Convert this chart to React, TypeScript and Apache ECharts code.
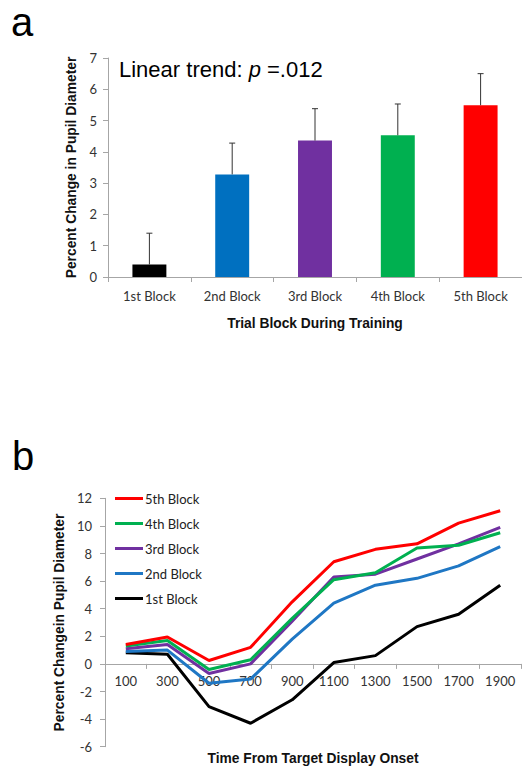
import React, { useEffect, useRef } from "react";
import * as echarts from "echarts";

// ---- Panel a data ----
const blockCategories = ["1st Block", "2nd Block", "3rd Block", "4th Block", "5th Block"];
const meanChange = [0.4, 3.28, 4.36, 4.53, 5.49];
const errorUp = [1.0, 1.0, 1.02, 1.0, 1.01];
const barColors = ["#000000", "#0070C0", "#7030A0", "#00B050", "#FF0000"];

// ---- Panel b data ----
const timeCategories = ["100", "300", "500", "700", "900", "1100", "1300", "1500", "1700", "1900"];
const block1 = [0.8, 0.7, -3.1, -4.3, -2.6, 0.1, 0.6, 2.7, 3.6, 5.7];
const block2 = [0.9, 1.0, -1.4, -1.1, 1.8, 4.4, 5.7, 6.2, 7.1, 8.5];
const block3 = [1.1, 1.4, -0.7, 0.0, 3.1, 6.3, 6.5, 7.6, 8.7, 9.9];
const block4 = [1.3, 1.7, -0.4, 0.3, 3.3, 6.1, 6.6, 8.4, 8.6, 9.5];
const block5 = [1.4, 1.95, 0.25, 1.2, 4.5, 7.4, 8.3, 8.7, 10.2, 11.1];
const lineNames = ["1st Block", "2nd Block", "3rd Block", "4th Block", "5th Block"];
const lineColors = ["#000000", "#1F77C4", "#7030A0", "#00B050", "#FF0000"];
const legendOrder = ["5th Block", "4th Block", "3rd Block", "2nd Block", "1st Block"];

const AXIS_GRAY = "#a6a6a6";
const TICK_FONT = "Lato";
const TITLE_FONT = "Liberation Sans";
const TITLE_SIZE = 13.8;

export default function App() {
  const ref = useRef<HTMLDivElement>(null);
  useEffect(() => {
    if (!ref.current) return;
    const chart = echarts.init(ref.current, null, { renderer: "svg" });
    const lineData = [block1, block2, block3, block4, block5];
    const option: any = {
      animation: false,
      backgroundColor: "#ffffff",
      grid: [
        { left: 108, top: 58, width: 421.5, height: 219, containLabel: false },
        { left: 105, top: 498.3, width: 416, height: 248.4, containLabel: false },
      ],
      legend: {
        data: legendOrder,
        orient: "vertical",
        left: 110,
        top: 487,
        itemWidth: 28,
        itemHeight: 3,
        itemGap: 12,
        icon: "rect",
        textStyle: { fontFamily: TICK_FONT, fontSize: 13, color: "#222", padding: [0, 0, 0, -3] },
      },
      xAxis: [
        {
          type: "category",
          gridIndex: 0,
          data: blockCategories,
          axisLine: { lineStyle: { color: AXIS_GRAY, width: 1 } },
          axisTick: { show: true, length: 5, lineStyle: { color: AXIS_GRAY } },
          axisLabel: { fontFamily: TICK_FONT, fontSize: 13, color: "#333", margin: 12 },
          name: "Trial Block During Training",
          nameLocation: "middle",
          nameGap: 39,
          nameTextStyle: { fontFamily: TITLE_FONT, fontWeight: "bold", fontSize: TITLE_SIZE, color: "#111" },
        },
        {
          type: "category",
          gridIndex: 1,
          data: timeCategories,
          position: "bottom",
          offset: -82.8,
          axisLine: { onZero: false, lineStyle: { color: AXIS_GRAY, width: 1 } },
          axisTick: { show: true, length: 5, lineStyle: { color: AXIS_GRAY } },
          axisLabel: { fontFamily: TICK_FONT, fontSize: 13, color: "#333", margin: 11 },
        },
      ],
      yAxis: [
        {
          type: "value",
          gridIndex: 0,
          min: 0,
          max: 7,
          interval: 1,
          splitLine: { show: false },
          axisLine: { show: true, lineStyle: { color: AXIS_GRAY, width: 1 } },
          axisTick: { show: true, length: 5, lineStyle: { color: AXIS_GRAY } },
          axisLabel: { fontFamily: TICK_FONT, fontSize: 13, color: "#333", margin: 11 },
          name: "Percent Change in Pupil Diameter",
          nameLocation: "middle",
          nameGap: 28,
          nameTextStyle: { fontFamily: TITLE_FONT, fontWeight: "bold", fontSize: TITLE_SIZE, color: "#111" },
        },
        {
          type: "value",
          gridIndex: 1,
          min: -6,
          max: 12,
          interval: 2,
          splitLine: { show: false },
          axisLine: { show: true, lineStyle: { color: AXIS_GRAY, width: 1 } },
          axisTick: { show: true, length: 5, lineStyle: { color: AXIS_GRAY } },
          axisLabel: { fontFamily: TICK_FONT, fontSize: 13, color: "#333", margin: 13 },
          name: "Percent Changein Pupil Diameter",
          nameLocation: "middle",
          nameGap: 31,
          nameTextStyle: { fontFamily: TITLE_FONT, fontWeight: "bold", fontSize: TITLE_SIZE, color: "#111" },
        },
      ],
      series: [
        {
          type: "bar",
          name: "Mean change",
          xAxisIndex: 0,
          yAxisIndex: 0,
          barWidth: "41%",
          data: meanChange.map((v, i) => ({ value: v, itemStyle: { color: barColors[i] } })),
          z: 2,
        },
        {
          type: "custom",
          name: "Error",
          xAxisIndex: 0,
          yAxisIndex: 0,
          z: 3,
          data: meanChange.map((v, i) => [i, v, v + errorUp[i]]),
          renderItem: (params: any, api: any) => {
            const x = api.value(0);
            const p0 = api.coord([x, api.value(1)]);
            const p1 = api.coord([x, api.value(2)]);
            const st = { stroke: "#333", lineWidth: 1 };
            return {
              type: "group",
              children: [
                { type: "line", shape: { x1: p0[0], y1: p0[1], x2: p1[0], y2: p1[1] }, style: st },
                { type: "line", shape: { x1: p1[0] - 3, y1: p1[1], x2: p1[0] + 3, y2: p1[1] }, style: st },
              ],
            };
          },
        },
        ...lineNames.map((n, i) => ({
          type: "line",
          name: n,
          xAxisIndex: 1,
          yAxisIndex: 1,
          data: lineData[i],
          symbol: "none",
          color: lineColors[i],
          lineStyle: { width: 3, color: lineColors[i] },
          z: 3 + i,
        })),
      ],
      graphic: [
        {
          type: "text",
          left: 11,
          top: 2,
          style: { text: "a", font: "40px 'Liberation Sans'", fill: "#000" },
        },
        {
          type: "text",
          left: 12,
          top: 436,
          style: { text: "b", font: "40px 'Liberation Sans'", fill: "#000" },
        },
        {
          type: "text",
          left: 119,
          top: 58,
          style: {
            text: "{n|Linear trend: }{i|p}{n| =.012}",
            rich: {
              n: { fontFamily: "Liberation Sans", fontSize: 22, fill: "#000" },
              i: { fontFamily: "Liberation Sans", fontSize: 22, fontStyle: "italic", fill: "#000" },
            },
          },
        },
        {
          type: "text",
          x: 313,
          y: 758,
          style: {
            text: "Time From Target Display Onset",
            fontFamily: TITLE_FONT,
            fontWeight: "bold",
            fontSize: TITLE_SIZE,
            fill: "#111",
            align: "center",
            verticalAlign: "middle",
          },
        },
      ],
    };
    chart.setOption(option);
    return () => chart.dispose();
  }, []);
  return (
    <div
      ref={ref}
      style={{ position: "absolute", left: 0, top: 0, width: 522, height: 771, background: "#fff" }}
    />
  );
}
